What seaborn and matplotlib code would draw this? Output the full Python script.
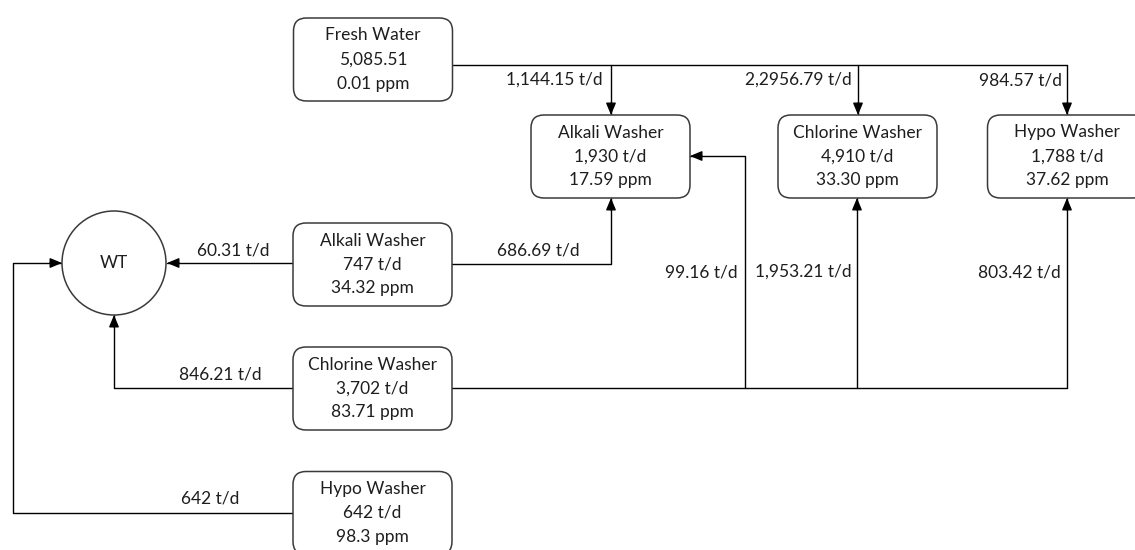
import numpy as np
import pandas as pd
import matplotlib
matplotlib.use('Agg')
import matplotlib.pyplot as plt
from matplotlib.patches import FancyBboxPatch, Circle
import seaborn as sns

# DADOS DO DIAGRAMA
unit_names = ['Fresh Water', 'Alkali Washer', 'Chlorine Washer', 'Hypo Washer',
              'Alkali Washer', 'Chlorine Washer', 'Hypo Washer']
unit_flows = ['5,085.51', '1,930 t/d', '4,910 t/d', '1,788 t/d',
              '747 t/d', '3,702 t/d', '642 t/d']
unit_ppm = ['0.01 ppm', '17.59 ppm', '33.30 ppm', '37.62 ppm',
            '34.32 ppm', '83.71 ppm', '98.3 ppm']
sink_name = 'WT'
stream_labels = ['1,144.15 t/d', '2,2956.79 t/d', '984.57 t/d', '60.31 t/d',
                 '686.69 t/d', '99.16 t/d', '1,953.21 t/d', '803.42 t/d',
                 '846.21 t/d', '642 t/d']

# LAYOUT (coordenadas em pixels da figura)
W, H = 1135, 550
box_w, box_h = 159, 83
box_centers = [(373, 59.5), (610.5, 156.5), (857.5, 156.5), (1067, 156.5),
               (372.5, 264.5), (372.5, 388.5), (372.5, 513)]
wt_center, wt_r = (114, 263), 52

# caminhos das linhas (ultimo ponto recebe seta quando arrow=True)
paths = [
    ([(453, 65), (1067, 65)], False),
    ([(611, 65), (611, 115)], True),
    ([(858, 65), (858, 115)], True),
    ([(1067, 65), (1067, 115)], True),
    ([(293, 263), (167, 263)], True),
    ([(452, 264), (611, 264), (611, 198)], True),
    ([(293, 388), (114, 388), (114, 315)], True),
    ([(452, 388), (1067, 388)], False),
    ([(745, 388), (745, 156), (690, 156)], True),
    ([(857, 388), (857, 198)], True),
    ([(1067, 388), (1067, 198)], True),
    ([(293, 513), (13, 513), (13, 263), (62, 263)], True),
]
label_pos = [(603, 80, 'right'), (852, 80, 'right'), (1062, 80, 'right'),
             (233, 251, 'center'), (538, 251, 'center'), (738, 272, 'right'),
             (852, 272, 'right'), (1061, 272, 'right'), (220, 374, 'center'),
             (210, 499, 'center')]

sns.set_theme(style='white')
plt.rcParams['font.family'] = ['Lato', 'DejaVu Sans']
txt_color = '#1e1e1e'
fs = 12.5

fig = plt.figure(figsize=(W / 100, H / 100), dpi=100)
ax = fig.add_axes([0, 0, 1, 1])
ax.set_xlim(0, W)
ax.set_ylim(H, 0)
ax.axis('off')

# linhas de fluxo via seaborn
rows = []
for i, (pts, _) in enumerate(paths):
    for x, y in pts:
        rows.append({'x': x, 'y': y, 'seg': i})
df_lines = pd.DataFrame(rows)
sns.lineplot(data=df_lines, x='x', y='y', units='seg', estimator=None,
             sort=False, color='black', linewidth=1, ax=ax, legend=False)

# setas
for pts, arrow in paths:
    if not arrow:
        continue
    (x0, y0), (x1, y1) = pts[-2], pts[-1]
    v = np.array([x1 - x0, y1 - y0], dtype=float)
    v /= np.linalg.norm(v)
    start = (x1 - 12 * v[0], y1 - 12 * v[1])
    ax.annotate('', xy=(x1, y1), xytext=start,
                arrowprops=dict(arrowstyle='-|>,head_length=0.6,head_width=0.25',
                                mutation_scale=12, color='black', lw=1,
                                shrinkA=0, shrinkB=0))

# caixas
for (cx, cy), name, flow, ppm in zip(box_centers, unit_names, unit_flows, unit_ppm):
    box = FancyBboxPatch((cx - box_w / 2, cy - box_h / 2), box_w, box_h,
                         boxstyle='round,pad=0,rounding_size=13',
                         facecolor='white', edgecolor='#3a3a3a', linewidth=1.1,
                         zorder=3)
    ax.add_patch(box)
    for k, t in enumerate([name, flow, ppm]):
        ax.text(cx, cy + (k - 1) * 24, t, ha='center', va='center',
                fontsize=fs, color=txt_color, zorder=4)

# tanque WT
ax.add_patch(Circle(wt_center, wt_r, facecolor='white', edgecolor='#3a3a3a',
                    linewidth=1.1, zorder=3))
ax.text(wt_center[0], wt_center[1], sink_name, ha='center', va='center',
        fontsize=fs, color=txt_color, zorder=4)

# rotulos dos fluxos
for (x, y, ha), lab in zip(label_pos, stream_labels):
    ax.text(x, y, lab, ha=ha, va='center', fontsize=fs, color=txt_color, zorder=4)

fig.savefig('out.png', dpi=100, facecolor='white')
